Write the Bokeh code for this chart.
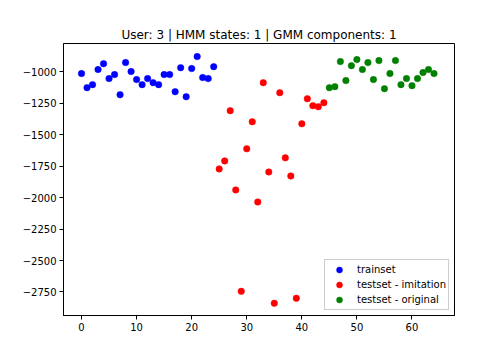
from bokeh.plotting import figure
from bokeh.models import Range1d, FixedTicker, CustomJSTickFormatter, Legend, LegendItem
from bokeh.embed import file_html
from bokeh.resources import INLINE

# ---- data ----
train_x = list(range(0, 25))
train_y = [-1014, -1126, -1102, -982, -935, -1054, -1022, -1182, -927, -998,
           -1062, -1102, -1054, -1086, -1102, -1022, -1022, -1158, -967, -1198,
           -974, -879, -1046, -1054, -959]

imit_x = list(range(25, 45))
imit_y = [-1772, -1708, -1309, -1939, -2745, -1612, -1397, -2035, -1086, -1796,
          -2840, -1166, -1684, -1828, -2800, -1413, -1214, -1269, -1277, -1246]

orig_x = list(range(45, 65))
orig_y = [-1126, -1118, -919, -1070, -951, -903, -982, -927, -1062, -911,
          -1134, -1014, -911, -1102, -1054, -1110, -1054, -1006, -982, -1014]

x_ticks = [0, 10, 20, 30, 40, 50, 60]
y_ticks = [-2750, -2500, -2250, -2000, -1750, -1500, -1250, -1000]

title_text = "User: 3 | HMM states: 1 | GMM components: 1"
labels = ["trainset", "testset - imitation", "testset - original"]
colors = ["#0000ff", "#ff0000", "#008000"]

FONT = "DejaVu Sans"

p = figure(width=488, height=344, output_backend="svg", toolbar_location=None,
           x_range=Range1d(-3.27, 67.72), y_range=Range1d(-2937, -775),
           min_border_left=63, min_border_right=34, min_border_top=43,
           min_border_bottom=29)

p.title.text = title_text
p.title.align = "center"
p.title.text_font = FONT
p.title.text_font_size = "12px"
p.title.text_font_style = "normal"
p.title.text_color = "#000000"
p.title.standoff = 4

p.grid.visible = False
p.outline_line_color = "#000000"
p.outline_line_alpha = 1
p.outline_line_width = 1

for ax in (p.xaxis[0], p.yaxis[0]):
    ax.axis_line_color = "#000000"
    ax.axis_line_width = 1
    ax.major_tick_line_color = "#000000"
    ax.major_tick_line_width = 1
    ax.major_tick_out = 4
    ax.major_tick_in = 0
    ax.minor_tick_line_color = None
    ax.major_label_text_font = FONT
    ax.major_label_text_font_size = "10px"
    ax.major_label_text_color = "#000000"
    ax.major_label_standoff = 3

p.xaxis[0].ticker = FixedTicker(ticks=x_ticks)
p.yaxis[0].ticker = FixedTicker(ticks=y_ticks)
p.yaxis[0].formatter = CustomJSTickFormatter(
    code="return tick < 0 ? '\\u2212' + Math.abs(tick) : String(tick);")

series = [(train_x, train_y), (imit_x, imit_y), (orig_x, orig_y)]
items = []
for (xs, ys), lab, col in zip(series, labels, colors):
    r = p.scatter(xs, ys, size=6.5, fill_color=col, line_color=col,
                  line_width=0.5)
    items.append(LegendItem(label=lab, renderers=[r]))

legend = Legend(items=items, location="bottom_right")
legend.label_text_font = FONT
legend.label_text_font_size = "10px"
legend.label_text_color = "#000000"
legend.border_line_color = "#cccccc"
legend.border_line_alpha = 1
legend.background_fill_color = "#ffffff"
legend.background_fill_alpha = 0.8
legend.padding = 2
legend.spacing = 0
legend.margin = 5
legend.label_height = 15
legend.glyph_height = 15
legend.glyph_width = 24
legend.label_standoff = 6
p.add_layout(legend)

open("out.html", "w").write(file_html(p, INLINE))
